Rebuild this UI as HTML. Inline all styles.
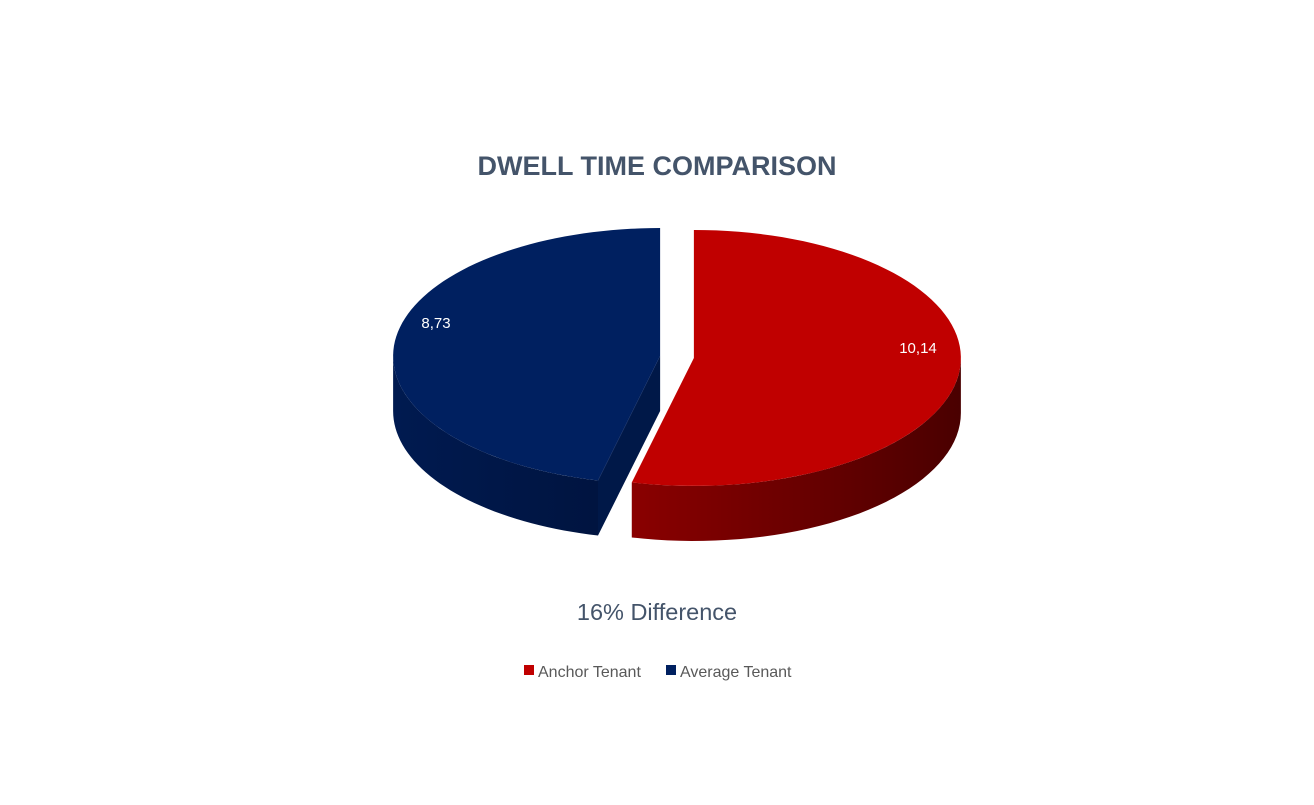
<!DOCTYPE html>
<html><head><meta charset="utf-8"><style>
body{margin:0;background:#fff;width:1314px;height:800px;overflow:hidden;font-family:"Liberation Sans",sans-serif}
</style></head><body>
<svg width="1314" height="800" viewBox="0 0 1314 800">
<defs>
<linearGradient id="redSide" x1="0" x2="1" y1="0" y2="0"><stop offset="0" stop-color="#8a0000"/><stop offset="1" stop-color="#4a0000"/></linearGradient>
<linearGradient id="blueSide" x1="0" x2="1" y1="0" y2="0"><stop offset="0" stop-color="#001a50"/><stop offset="1" stop-color="#001440"/></linearGradient>
</defs>
<text x="657" y="175" text-anchor="middle" font-size="27" font-weight="bold" fill="#44546a">DWELL TIME COMPARISON</text>
<g id="pie"></g>
<text x="657" y="620" text-anchor="middle" font-size="23.5" fill="#44546a">16% Difference</text>
<g>
<rect x="524" y="665" width="10" height="10" fill="#c00000"/>
<text x="538" y="677" font-size="16" fill="#595959">Anchor Tenant</text>
<rect x="666" y="665" width="10" height="10" fill="#002060"/>
<text x="680" y="677" font-size="16" fill="#595959">Average Tenant</text>
</g>
</svg>
<script>
const categories = ["Anchor Tenant", "Average Tenant"];
const values = [10.14, 8.73];
const labels = ["10,14", "8,73"];

const NS = "http://www.w3.org/2000/svg";
const g = document.getElementById('pie');
const rx = 267, ry = 128, depth = 55, baseX = 677, baseY = 357, explode = 17;
const tops = ["#c00000", "#002060"], sides = ["url(#redSide)", "url(#blueSide)"], cuts = ["#5a0000", "#001848"];
const total = values.reduce((a, b) => a + b, 0);
function pt(cx, cy, a, dy) { return [cx + rx * Math.sin(a), cy - ry * Math.cos(a) + (dy || 0)]; }
function mk(tag, attrs) { const e = document.createElementNS(NS, tag); for (const k in attrs) e.setAttribute(k, attrs[k]); return e; }
let start = 0;
const slices = values.map((v, i) => {
  const a0 = start, a1 = start + v / total * 2 * Math.PI; start = a1;
  const mid = (a0 + a1) / 2;
  const cx = baseX + explode * Math.sin(mid), cy = baseY - explode * 0.48 * Math.cos(mid);
  return { i, a0, a1, mid, cx, cy };
});
function sidePath(s) {
  const lo = Math.max(s.a0, Math.PI / 2), hi = Math.min(s.a1, 3 * Math.PI / 2);
  if (hi <= lo) return null;
  const n = 40; let d = "";
  for (let k = 0; k <= n; k++) { const p = pt(s.cx, s.cy, lo + (hi - lo) * k / n); d += (k ? "L" : "M") + p[0] + "," + p[1]; }
  for (let k = n; k >= 0; k--) { const p = pt(s.cx, s.cy, lo + (hi - lo) * k / n, depth); d += "L" + p[0] + "," + p[1]; }
  return d + "Z";
}
function topPath(s) {
  const n = 80; let d = "M" + s.cx + "," + s.cy;
  for (let k = 0; k <= n; k++) { const p = pt(s.cx, s.cy, s.a0 + (s.a1 - s.a0) * k / n); d += "L" + p[0] + "," + p[1]; }
  return d + "Z";
}
[1, 0].forEach(i => {
  const s = slices[i];
  if (i === 1) {
    const p = pt(s.cx, s.cy, s.a0);
    const cut = mk('path', { d: `M${s.cx},${s.cy}L${p[0]},${p[1]}L${p[0]},${p[1] + depth}L${s.cx},${s.cy + depth}Z`, fill: cuts[i] });
    
    
    g.appendChild(cut);
  }
  const sd = sidePath(s);
  if (sd) {
    const side = mk('path', { d: sd, fill: sides[i] });
    
    
    g.appendChild(side);
  }
  const top = mk('path', { d: topPath(s), fill: tops[i] });
  
  
  g.appendChild(top);
});
slices.forEach(s => {
  const t = mk('text', { x: s.i === 0 ? 918 : 436, y: s.i === 0 ? 353 : 328, 'text-anchor': 'middle', 'font-size': 15, fill: '#fff' });
  t.textContent = labels[s.i];
  
  
  g.appendChild(t);
});
</script>
</body></html>
